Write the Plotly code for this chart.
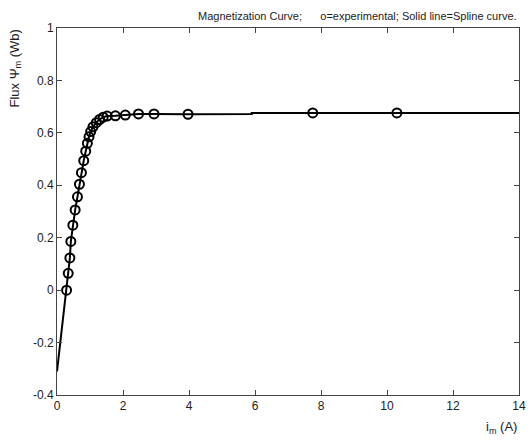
import plotly.graph_objects as go

# experimental points (magnetizing current i_m [A], flux Psi_m [Wb])
exp_i = [0.29, 0.34, 0.39, 0.42, 0.48, 0.55, 0.62, 0.68, 0.74, 0.81, 0.87, 0.92,
         0.97, 1.02, 1.09, 1.19, 1.29, 1.40, 1.52, 1.77, 2.07, 2.47, 2.94, 3.97,
         7.75, 10.3]
exp_psi = [0.0, 0.064, 0.123, 0.186, 0.248, 0.306, 0.356, 0.404, 0.448, 0.494,
           0.53, 0.56, 0.585, 0.605, 0.623, 0.639, 0.651, 0.66, 0.664, 0.665,
           0.668, 0.672, 0.672, 0.671, 0.676, 0.676]

# spline curve
spl_i = [0.0, 0.29, 0.34, 0.39, 0.42, 0.48, 0.55, 0.62, 0.68, 0.74, 0.81, 0.87,
         0.92, 0.97, 1.02, 1.09, 1.19, 1.29, 1.40, 1.52, 1.77, 2.07, 2.47, 2.94,
         3.97, 5.9, 5.9, 7.75, 10.3, 14.0]
spl_psi = [-0.31, 0.0, 0.064, 0.123, 0.186, 0.248, 0.306, 0.356, 0.404, 0.448,
           0.494, 0.53, 0.56, 0.585, 0.605, 0.623, 0.639, 0.651, 0.66, 0.664,
           0.665, 0.668, 0.672, 0.672, 0.671, 0.672, 0.676, 0.676, 0.676, 0.676]

x_ticks = [0, 2, 4, 6, 8, 10, 12, 14]
y_ticks = [-0.4, -0.2, 0, 0.2, 0.4, 0.6, 0.8, 1]
y_tick_text = ["-0.4", "-0.2", "0", "0.2", "0.4", "0.6", "0.8", "1"]

fig = go.Figure()
fig.add_trace(go.Scatter(x=spl_i, y=spl_psi, mode="lines",
                         line=dict(color="black", width=2), hoverinfo="skip"))
fig.add_trace(go.Scatter(x=exp_i, y=exp_psi, mode="markers",
                         marker=dict(symbol="circle-open", size=9, color="black",
                                     line=dict(width=2, color="black"))))

font = dict(family="Liberation Sans, Arial, sans-serif", size=12, color="#222")
title_font = dict(family="Liberation Sans, Arial, sans-serif", size=13, color="#222")
axis_common = dict(showline=True, linecolor="#444", linewidth=1, mirror="ticks",
                   ticks="inside", ticklen=5, tickcolor="#444", showgrid=False,
                   zeroline=False, tickfont=font, ticklabeloverflow="allow",
                   automargin=False)
fig.update_xaxes(range=[0, 14], tickvals=x_ticks, **axis_common)
fig.update_yaxes(range=[-0.4, 1], tickvals=y_ticks, ticktext=y_tick_text, **axis_common)

fig.update_layout(
    width=528, height=441, showlegend=False,
    paper_bgcolor="white", plot_bgcolor="white",
    margin=dict(l=57, r=9, t=28, b=46),
    annotations=[
        dict(text="Magnetization Curve;      o=experimental; Solid line=Spline curve.",
             xref="paper", yref="paper", x=1, y=1, xanchor="right", yanchor="bottom",
             yshift=4, showarrow=False,
             font=dict(family="Liberation Sans, Arial, sans-serif", size=11, color="#222")),
        dict(text="Flux \u03a8<sub>m</sub> (Wb)", xref="paper", yref="paper",
             x=0, y=1, xanchor="right", yanchor="top", xshift=-32, textangle=-90,
             showarrow=False, font=title_font),
        dict(text="i<sub>m</sub> (A)", xref="paper", yref="paper", x=1, y=0,
             xanchor="right", yanchor="top", yshift=-22, showarrow=False, font=title_font),
    ],
)
fig.write_html("out.html")
